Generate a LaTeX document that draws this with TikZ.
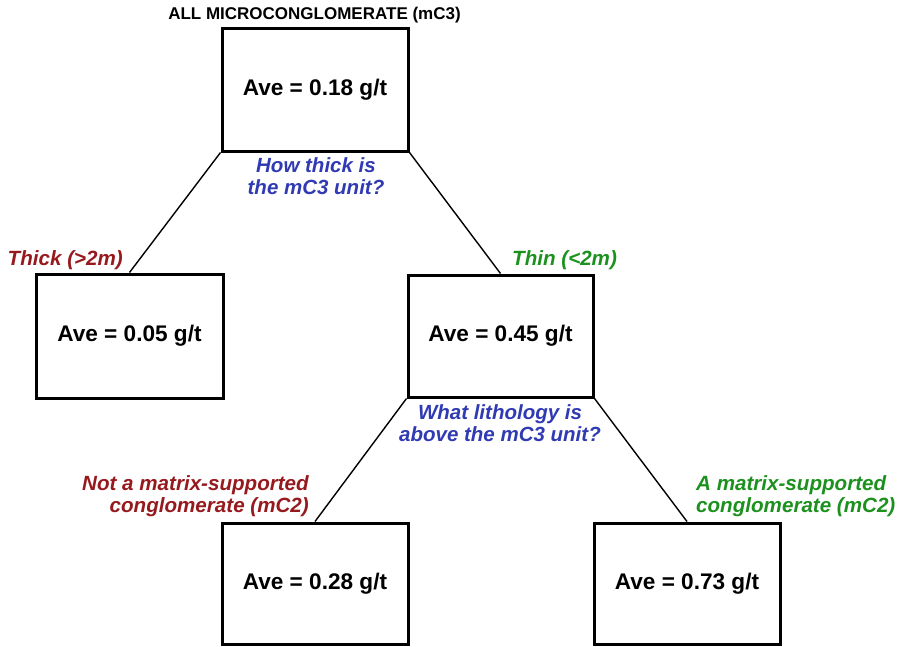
\documentclass[tikz,border=0pt]{standalone}
\usepackage{fontspec}
\setmainfont{Liberation Sans}
\definecolor{qblue}{RGB}{48,58,178}
\definecolor{qred}{RGB}{150,25,30}
\definecolor{qgreen}{RGB}{28,145,30}
\begin{document}
\begin{tikzpicture}[x=1pt,y=-1pt,
  box/.style={draw=black,line width=3pt,minimum width=186pt,minimum height=122pt,inner sep=0pt,
    font=\fontsize{22.6}{24}\selectfont\bfseries},
  conn/.style={line width=1.4pt,black},
  question/.style={text=qblue,align=center,inner sep=0pt,font=\fontsize{20.5}{22}\selectfont\bfseries\itshape},
  redlab/.style={text=qred,inner sep=0pt,font=\fontsize{20.6}{22}\selectfont\bfseries\itshape},
  greenlab/.style={text=qgreen,inner sep=0pt,font=\fontsize{20.6}{22}\selectfont\bfseries\itshape}]
\useasboundingbox (0,0) rectangle (900,646);
\node[inner sep=0pt,font=\fontsize{17}{18}\selectfont\bfseries] (title) at (314.5,15) {ALL MICROCONGLOMERATE (mC3)};
\node[box,minimum height=123pt] (top) at (315,89.5) {Ave = 0.18 g/t};
\node[box,minimum width=187pt,minimum height=124pt] (thick) at (129.5,336) {Ave = 0.05 g/t};
\node[box,minimum width=185pt] (thin) at (500.5,336) {Ave = 0.45 g/t};
\node[box,minimum height=121pt] (b28) at (315,583.5) {Ave = 0.28 g/t};
\node[box,minimum height=121pt] (b73) at (687,583.5) {Ave = 0.73 g/t};
\draw[conn] (top.south west) -- (thick.north);
\draw[conn] (top.south east) -- (thin.north);
\draw[conn] (thin.south west) -- (b28.north);
\draw[conn] (thin.south east) -- (b73.north);
\node[question] (q1) at (316,176) {How thick is\\the mC3 unit?};
\node[question] (q2) at (500,423) {What lithology is\\above the mC3 unit?};
\node[redlab,anchor=east] (lthick) at (123,260) {Thick (>2m)};
\node[greenlab,anchor=west] (lthin) at (512,260) {Thin (<2m)};
\node[redlab,anchor=east,align=right] (lnot) at (309,496) {Not a matrix-supported\\conglomerate (mC2)};
\node[greenlab,anchor=west,align=left] (lyes) at (696,496) {A matrix-supported\\conglomerate (mC2)};
\end{tikzpicture}
\end{document}
